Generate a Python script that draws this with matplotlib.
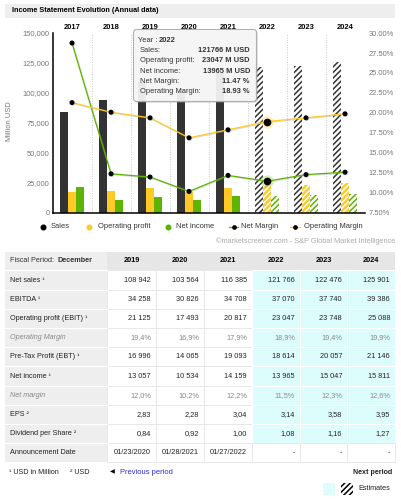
"""
Income statement chart + table, redrawn with matplotlib.
"""
import matplotlib
matplotlib.use("Agg")
import matplotlib.pyplot as plt, numpy as np
import matplotlib.patheffects as pe
from matplotlib.patches import Rectangle, FancyBboxPatch
from matplotlib.lines import Line2D

plt.rcParams["font.family"] = ["Liberation Sans", "DejaVu Sans"]
plt.rcParams["hatch.linewidth"] = 1.1

# --- data ---
years = [2017, 2018, 2019, 2020, 2021, 2022, 2023, 2024]
sales = [84200, 94000, 108942, 103564, 116385, 121766, 122476, 125901]
op_profit = [17500, 18700, 21125, 17493, 20817, 23047, 23748, 25088]
net_income = [21700, 11000, 13057, 10534, 14159, 13965, 15047, 15811]
net_margin = [28.75, 12.4, 12.0, 10.2, 12.2, 11.47, 12.3, 12.6]
op_margin = [21.3, 20.1, 19.4, 16.9, 17.9, 18.93, 19.4, 19.9]
estimated = [False, False, False, False, False, True, True, True]
hover_idx = 5  # 2022, the tooltip

tbl_years = ["2019", "2020", "2021", "2022", "2023", "2024"]
tbl_est = [False, False, False, True, True, True]
row_labels = ["Net sales ¹", "EBITDA ¹", "Operating profit (EBIT) ¹",
              "Operating Margin", "Pre-Tax Profit (EBT) ¹", "Net income ¹",
              "Net margin", "EPS ²", "Dividend per Share ²", "Announcement Date"]
row_net_sales = ["108 942", "103 564", "116 385", "121 766", "122 476", "125 901"]
row_ebitda = ["34 258", "30 826", "34 708", "37 070", "37 740", "39 386"]
row_ebit = ["21 125", "17 493", "20 817", "23 047", "23 748", "25 088"]
row_op_margin = ["19,4%", "16,9%", "17,9%", "18,9%", "19,4%", "19,9%"]
row_ebt = ["16 996", "14 065", "19 093", "18 614", "20 057", "21 146"]
row_net_income = ["13 057", "10 534", "14 159", "13 965", "15 047", "15 811"]
row_net_margin = ["12,0%", "10,2%", "12,2%", "11,5%", "12,3%", "12,6%"]
row_eps = ["2,83", "2,28", "3,04", "3,14", "3,58", "3,95"]
row_dps = ["0,84", "0,92", "1,00", "1,08", "1,16", "1,27"]
row_dates = ["01/23/2020", "01/28/2021", "01/27/2022", "-", "-", "-"]
rows = [row_net_sales, row_ebitda, row_ebit, row_op_margin, row_ebt,
        row_net_income, row_net_margin, row_eps, row_dps, row_dates]
muted_rows = [3, 6]  # margin rows, grey italic

C_SALES = "#333333"
C_OP = "#ffc926"
C_NI = "#5cb300"
C_GREY = "#777777"
C_CYAN = "#ddfdfd"
FS = 5.4     # chart text
FS_T = 5.2   # table text

W, H = 401, 500
fig = plt.figure(figsize=(W / 100, H / 100), dpi=100)

# main chart in pixel coords: x 52.5..364.5, y 33..213
ax = fig.add_axes([52.5 / W, 1 - 213 / H, 312 / W, 180 / H])
ax2 = ax.twinx()

x = np.arange(len(years))
est = np.array(estimated)
act = ~est
bw = 0.205
s, o, n = np.array(sales), np.array(op_profit), np.array(net_income)

ax.bar(x[act] - bw, s[act], bw, color=C_SALES, linewidth=0)
ax.bar(x[act], o[act], bw, color=C_OP, linewidth=0)
ax.bar(x[act] + bw, n[act], bw, color=C_NI, linewidth=0)
# estimates: hatched
ax.bar(x[est] - bw, s[est], bw, color="white", edgecolor=C_SALES,
       hatch="//////", linewidth=0)
ax.bar(x[est], o[est], bw, color=C_OP, edgecolor="white",
       hatch="//////", linewidth=0)
ax.bar(x[est] + bw, n[est], bw, color="white", edgecolor=C_NI,
       hatch="//////", linewidth=0)

ax.set_xlim(-0.5, len(years) - 0.5)
ax.set_ylim(0, 150000)
ax.set_yticks(np.arange(0, 150001, 25000))
ax.set_yticklabels([f"{v:,}" for v in range(0, 150001, 25000)])
ax.xaxis.tick_top()
ax.set_xticks(x)
ax.set_xticklabels([str(y) for y in years], fontweight="bold")
ax.tick_params(axis="x", length=0, pad=1.5, labelsize=FS, colors="black")
ax.tick_params(axis="y", length=0, pad=2, labelsize=FS, colors=C_GREY)
for b in np.arange(0.5, len(years), 1):
    ax.axvline(b, color="#c8c8c8", ls=(0, (1, 1.5)), lw=0.7, zorder=0)
for sp in ["top", "right"]:
    ax.spines[sp].set_visible(False)
for sp in ["left", "bottom"]:
    ax.spines[sp].set_color("black")
    ax.spines[sp].set_linewidth(1.1)

shadow = [pe.SimpleLineShadow(offset=(0.6, -0.6), shadow_color="#999999",
                              alpha=0.35), pe.Normal()]
ax2.plot(x, net_margin, color=C_NI, lw=0.9, marker="o", ms=2.6,
         mfc="black", mec="black", path_effects=shadow, zorder=3)
ax2.plot(x, op_margin, color=C_OP, lw=0.9, marker="o", ms=2.6,
         mfc="black", mec="black", path_effects=shadow, zorder=3)
ax2.plot(x[hover_idx], net_margin[hover_idx], "o", ms=9, color=C_NI,
         alpha=0.25, mec="none", zorder=4)
ax2.plot(x[hover_idx], op_margin[hover_idx], "o", ms=9, color=C_OP,
         alpha=0.3, mec="none", zorder=4)
ax2.plot(x[hover_idx], net_margin[hover_idx], "o", ms=4.5, color="black",
         zorder=5)
ax2.plot(x[hover_idx], op_margin[hover_idx], "o", ms=4.5, color="black",
         zorder=5)
ax2.set_ylim(7.5, 30)
ax2.set_yticks(np.arange(7.5, 30.01, 2.5))
ax2.set_yticklabels([f"{v:.2f}%" for v in np.arange(7.5, 30.01, 2.5)])
ax2.tick_params(axis="y", length=0, pad=3, labelsize=FS, colors=C_GREY)
for sp in ax2.spines.values():
    sp.set_visible(False)
ax2.axvline(len(years) - 0.5, color="#c8c8c8", ls=(0, (1, 1.5)), lw=0.7)

# overlay in pixel coords for title, legend, tooltip, table
ov = fig.add_axes([0, 0, 1, 1], zorder=10)
ov.set_xlim(0, W)
ov.set_ylim(H, 0)
ov.axis("off")
ov.patch.set_alpha(0)

ov.add_patch(Rectangle((5, 4), 390, 13.5, color="#eeeeee", lw=0))
ov.text(12, 11, "Income Statement Evolution (Annual data)", fontsize=5.2,
        fontweight="bold", va="center")
ov.text(10, 121, "Million USD", rotation=90, fontsize=FS, color=C_GREY,
        va="center", ha="center")

# legend
ly = 227
ov.plot(43, ly, "o", ms=3.3, color="black")
ov.text(51, ly, "Sales", fontsize=FS, va="center", color="#333333")
ov.plot(89, ly, "o", ms=3.3, color=C_OP)
ov.text(97.5, ly, "Operating profit", fontsize=FS, va="center", color="#333333")
ov.plot(168, ly, "o", ms=3.3, color=C_NI)
ov.text(176, ly, "Net income", fontsize=FS, va="center", color="#333333")
ov.add_line(Line2D([229, 238], [ly, ly], color=C_NI, lw=0.9))
ov.plot(233.5, ly, "o", ms=2.4, color="black")
ov.text(241, ly, "Net Margin", fontsize=FS, va="center", color="#333333")
ov.add_line(Line2D([290, 300], [ly, ly], color=C_OP, lw=0.9))
ov.plot(295, ly, "o", ms=2.4, color="black")
ov.text(304, ly, "Operating Margin", fontsize=FS, va="center", color="#333333")

ov.text(395, 241, "©marketscreener.com - S&P Global Market Intelligence",
        fontsize=5.3, color="#aaaaaa", ha="right", va="center")

# tooltip
ov.add_patch(FancyBboxPatch((135, 31), 123, 72, boxstyle="round,pad=0,rounding_size=3",
                            facecolor="#999999", alpha=0.25, lw=0))
ov.add_patch(FancyBboxPatch((133.5, 29.5), 123, 72, boxstyle="round,pad=0,rounding_size=3",
                            facecolor="#f7f7f7", alpha=0.92, edgecolor="#aaaaaa", lw=0.8))
ov.text(138.5, 40, "Year : ", fontsize=FS, va="center", color="#333333")
ov.text(159, 40, str(years[hover_idx]), fontsize=FS, va="center",
        fontweight="bold", color="#333333")
tip = [("Sales:", f"{sales[hover_idx]} M USD"),
       ("Operating profit:", f"{op_profit[hover_idx]} M USD"),
       ("Net income:", f"{net_income[hover_idx]} M USD"),
       ("Net Margin:", f"{net_margin[hover_idx]:.2f} %"),
       ("Operating Margin:", f"{op_margin[hover_idx]:.2f} %")]
for k, (lab, val) in enumerate(tip):
    yy = 50.7 + 10.25 * k
    ov.text(139.5, yy, lab, fontsize=FS, va="center", color="#333333")
    ov.text(250, yy, val, fontsize=FS, va="center", ha="right",
            fontweight="bold", color="#333333")

# table
col_l = [107, 156, 204, 252, 300, 347, 395]
hdr_top, hdr_bot = 252, 270.4
rh = 19.2
n_rows = len(rows)
ov.add_patch(Rectangle((5, hdr_top), 102, hdr_bot - hdr_top + rh * n_rows,
                       color="#eeeeee", lw=0))
ov.add_patch(Rectangle((107, hdr_top), 288, hdr_bot - hdr_top,
                       color="#e6e6e6", lw=0))
ov.text(10, 261, "Fiscal Period: ", fontsize=FS_T, va="center", color="#333333")
ov.text(57, 261, "December", fontsize=FS_T, va="center", fontweight="bold",
        color="#333333")
for j, yr in enumerate(tbl_years):
    ov.text((col_l[j] + col_l[j + 1]) / 2, 261, yr, fontsize=5.3,
            ha="center", va="center", fontweight="bold")

for i, (lab, vals) in enumerate(zip(row_labels, rows)):
    top = hdr_bot + rh * i
    cy = top + rh / 2
    muted = i in muted_rows
    ov.add_line(Line2D([5, 107], [top, top], color="white", lw=0.8))
    ov.text(10, cy, lab, fontsize=FS_T, va="center",
            color="#888888" if muted else "#222222",
            style="italic" if muted else "normal")
    for j, v in enumerate(vals):
        cyan = tbl_est[j] and i < n_rows - 1
        ov.add_patch(Rectangle((col_l[j], top), col_l[j + 1] - col_l[j], rh,
                               facecolor=C_CYAN if cyan else "white",
                               edgecolor="white" if cyan else "#e8e8e8",
                               lw=0.7))
        ov.text(col_l[j + 1] - 5, cy, v, fontsize=5.3, va="center", ha="right",
                color="#888888" if muted else "#222222")

# footnotes
fy = 472
ov.text(9, fy, "¹ USD in Million", fontsize=FS_T, va="center", color="#222222")
ov.text(70, fy, "² USD", fontsize=FS_T, va="center", color="#222222")
ov.text(110, fy, "◀", fontsize=4.5, va="center", color="black")
ov.text(120, fy, "Previous period", fontsize=FS, va="center", color="#2b2bdd")
ov.text(392, fy, "Next period", fontsize=5.1, va="center", ha="right",
        color="#222222", fontweight="bold")
ov.add_patch(Rectangle((323, 482.5), 12, 12, color=C_CYAN, lw=0))
ov.add_patch(Rectangle((341, 482.5), 12, 12, facecolor="white",
                       edgecolor="black", hatch="//////", lw=0))
ov.text(358, 489, "Estimates", fontsize=FS_T, va="center", color="#222222")

fig.savefig("out.png", dpi=100)
